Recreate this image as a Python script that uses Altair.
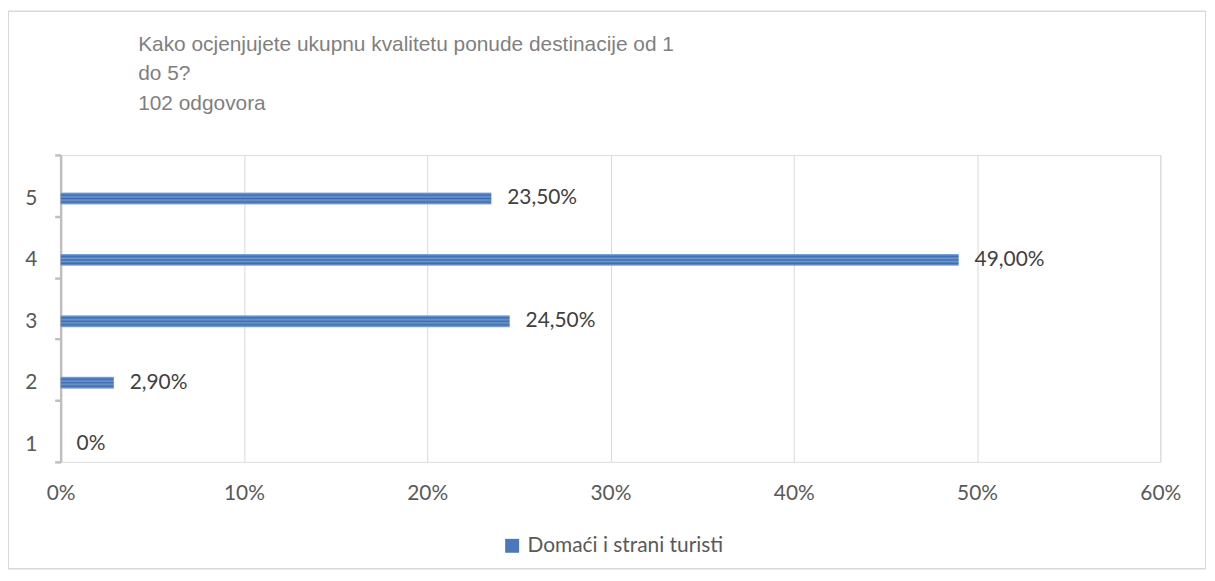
import altair as alt
import pandas as pd

categories = ["5", "4", "3", "2", "1"]
values = [23.5, 49.0, 24.5, 2.9, 0.0]
labels = ["23,50%", "49,00%", "24,50%", "2,90%", "0%"]
series = ["Domaći i strani turisti"] * 5

df = pd.DataFrame({"cat": categories, "val": values, "lab": labels, "series": series})

W, H = 1107, 309
PL, PT, PR, PB = 53, 146, 47, 113
FONT = "Lato"
FS = 21

stripe = {
    "gradient": "linear", "x1": 0, "y1": 0, "x2": 0, "y2": 1,
    "stops": [
        {"offset": 0.0, "color": "#8eaedb"},
        {"offset": 0.2, "color": "#3d6db2"},
        {"offset": 0.38, "color": "#6f97cf"},
        {"offset": 0.5, "color": "#3a69ad"},
        {"offset": 0.62, "color": "#6f97cf"},
        {"offset": 0.8, "color": "#3d6db2"},
        {"offset": 1.0, "color": "#8eaedb"},
    ],
}

yenc = alt.Y("cat:N", sort=categories, title=None,
             scale=alt.Scale(paddingInner=0, paddingOuter=0),
             axis=alt.Axis(domainColor="#bfbfbf", domainWidth=2.5, tickColor="#bfbfbf",
                           tickWidth=2.5, tickSize=6, tickBand="extent",
                           labelOffset=13, labelPadding=18, labelFontSize=FS,
                           labelColor="#595959", labelFont=FONT, grid=False))
xenc = alt.X("val:Q", title=None,
             scale=alt.Scale(domain=[0, 60], nice=False),
             axis=alt.Axis(values=[0, 10, 20, 30, 40, 50, 60], labelExpr="datum.value + '%'",
                           grid=True, gridColor="#d9d9d9", gridWidth=1, domain=False,
                           ticks=False, labelPadding=32, labelBaseline="middle",
                           labelFontSize=FS, labelColor="#595959", labelFont=FONT,
                           labelFlush=False))

bars = alt.Chart(df).mark_bar(height=12, yOffset=13, fill=stripe, strokeWidth=0).encode(
    x=xenc, y=yenc,
)

legend_pt = alt.Chart(df).mark_square(size=0, opacity=0).encode(
    color=alt.Color("series:N", scale=alt.Scale(range=["#4a78bb"]),
                    legend=alt.Legend(title=None, orient="none", legendX=444, legendY=383,
                                      symbolType="square", symbolSize=196,
                                      symbolFillColor="#4a78bb", symbolStrokeColor="#4a78bb",
                                      symbolStrokeWidth=0, labelLimit=500,
                                      symbolOpacity=1, labelFontSize=FS, labelColor="#595959",
                                      labelFont=FONT, labelOffset=5)),
    x="val:Q", y=alt.Y("cat:N", sort=categories),
)

text = alt.Chart(df).mark_text(align="left", baseline="middle", dx=16, yOffset=13,
                               fontSize=FS, color="#404040", font=FONT).encode(
    x="val:Q", y=alt.Y("cat:N", sort=categories), text="lab:N")

frame = alt.Chart(df).mark_rect(fill=None, stroke="#d9d9d9", strokeWidth=1).encode(
    x=alt.value(-PL + 0.5), x2=alt.value(W + PR - 1.5), y=alt.value(-PT + 1.5),
    y2=alt.value(H + PB - 5.5))

chart = alt.layer(frame, bars, text, legend_pt).properties(
    width=W, height=H,
    autosize=alt.AutoSizeParams(type="none"),
    padding={"left": PL, "top": PT, "right": PR, "bottom": PB},
    title=alt.TitleParams(
        text=["Kako ocjenjujete  ukupnu kvalitetu ponude destinacije od 1", "do 5?", "102 odgovora"],
        anchor="start", dx=131, offset=0, dy=104, baseline="top", fontSize=21,
        font="Liberation Sans", fontWeight="normal", color="#7f7f7f", lineHeight=30),
).configure_view(stroke=None).configure(background="white")

chart.save("out.html", embed_options={"renderer": "svg", "actions": False})
